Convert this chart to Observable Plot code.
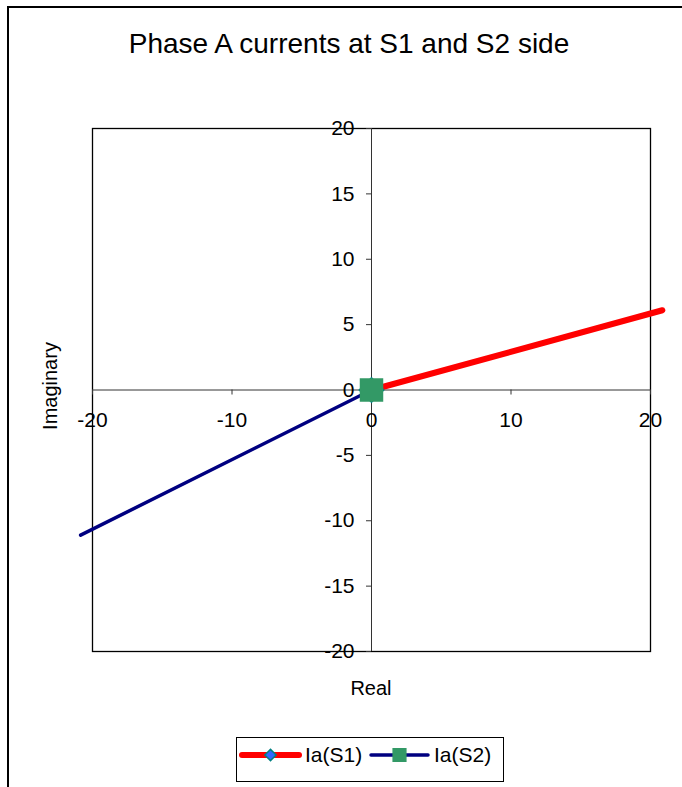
<!DOCTYPE html>
<html>
<head>
<meta charset="utf-8">
<script src="https://cdn.jsdelivr.net/npm/d3@7"></script>
<script src="https://cdn.jsdelivr.net/npm/@observablehq/plot@0.6"></script>
<style>
  html, body { margin: 0; padding: 0; background: #fff; }
  body { width: 682px; height: 787px; overflow: hidden; font-family: "Liberation Sans", Arial, sans-serif; }
  #wrap { position: relative; width: 682px; height: 787px; }
  #border { position: absolute; left: 7px; top: 6px; width: 700px; height: 800px; border: 2px solid #000; box-sizing: border-box; }
  #chart { position: absolute; left: 0; top: 0; }
  .title { position: absolute; left: 0; width: 698px; text-align: center; top: 28px; font-size: 28px; color: #000; white-space: nowrap; }
  .xlabel { position: absolute; left: 271px; width: 200px; text-align: center; top: 677px; font-size: 20px; }
  .ylabel { position: absolute; left: 50px; top: 386px; font-size: 20px; transform: translate(-50%, -50%) rotate(-90deg); white-space: nowrap; }
  #legend { position: absolute; left: 236px; top: 737px; }
</style>
</head>
<body>
<div id="wrap">
  <div id="chart"></div>
  <div id="border"></div>
  <div class="title" id="title"></div>
  <div class="xlabel" id="xlabel"></div>
  <div class="ylabel" id="ylabel"></div>
  <div id="legend"></div>
</div>
<script>
const titleText = "Phase A currents at S1 and S2 side";
const xTitle = "Real";
const yTitle = "Imaginary";
const seriesNames = ["Ia(S1)", "Ia(S2)"];
const s1Real = [0, 20.85];
const s1Imag = [0, 6.1];
const s2Real = [0, -20.85];
const s2Imag = [0, -11.1];
const xTicks = [-20, -10, 0, 10, 20];
const yTicks = [-20, -15, -10, -5, 0, 5, 10, 15, 20];

const s1 = s1Real.map((r, i) => ({re: r, im: s1Imag[i]}));
const s2 = s2Real.map((r, i) => ({re: r, im: s2Imag[i]}));
const inRange = d => Math.abs(d.re) <= 20 && Math.abs(d.im) <= 20;

const font = "Liberation Sans, Arial, sans-serif";
const plot = Plot.plot({
  width: 682,
  height: 787,
  marginLeft: 92,
  marginRight: 32,
  marginTop: 128,
  marginBottom: 136,
  x: {domain: [-20, 20], axis: null},
  y: {domain: [-20, 20], axis: null},
  style: {fontFamily: font, background: "transparent", overflow: "visible"},
  marks: [
    Plot.frame({stroke: "#000", strokeWidth: 1.3}),
    Plot.ruleX([0], {stroke: "#333", strokeWidth: 1}),
    Plot.ruleY([0], {stroke: "#333", strokeWidth: 1}),
    Plot.ruleX(xTicks, {x: d => d, y1: 0, y2: 0, insetBottom: -5, stroke: "#333", strokeWidth: 1}),
    Plot.ruleY(yTicks, {y: d => d, x1: 0, x2: 0, insetLeft: -5, stroke: "#333", strokeWidth: 1}),
    Plot.text(xTicks, {x: d => d, y: 0, dy: 30, text: d => String(d), fontSize: 21, fill: "#000"}),
    Plot.text(yTicks, {x: 0, y: d => d, dx: -17, text: d => String(d), textAnchor: "end", fontSize: 21, fill: "#000"}),
    Plot.line(s1, {x: "re", y: "im", stroke: "#ff0000", strokeWidth: 6}),
    Plot.line(s2, {x: "re", y: "im", stroke: "#000080", strokeWidth: 3.5}),
    Plot.dot(s1.filter(inRange), {x: "re", y: "im", symbol: "diamond2", r: 11, fill: "#3366ff", stroke: "#008080", strokeWidth: 1.5}),
    Plot.dot(s2.filter(inRange), {x: "re", y: "im", symbol: "square", r: 12.4, fill: "#339966", stroke: "#339966"})
  ]
});
document.getElementById("chart").appendChild(plot);
document.getElementById("title").textContent = titleText;
document.getElementById("xlabel").textContent = xTitle;
document.getElementById("ylabel").textContent = yTitle;

// legend
const leg = d3.select("#legend").append("svg")
  .attr("width", 268).attr("height", 46)
  .style("font-family", font);
leg.append("rect").attr("x", 0.5).attr("y", 0.5).attr("width", 267).attr("height", 44)
  .attr("fill", "#fff").attr("stroke", "#000").attr("stroke-width", 1);
const items = [
  {name: seriesNames[0], x0: 6, color: "#ff0000", w: 6, sym: d3.symbolDiamond2, fill: "#3366ff", st: "#008080", size: 80},
  {name: seriesNames[1], x0: 135, color: "#000080", w: 3.5, sym: d3.symbolSquare, fill: "#339966", st: "#339966", size: 160}
];
items.forEach(it => {
  const g = leg.append("g");
  g.append("line").attr("x1", it.x0).attr("x2", it.x0 + 57).attr("y1", 18).attr("y2", 18)
    .attr("stroke", it.color).attr("stroke-width", it.w).attr("stroke-linecap", "round");
  g.append("path").attr("d", d3.symbol(it.sym, it.size)()).attr("transform", `translate(${it.x0 + 28.5},18)`)
    .attr("fill", it.fill).attr("stroke", it.st).attr("stroke-width", 1.5);
  g.append("text").attr("x", it.x0 + 63).attr("y", 18).attr("dy", "0.35em")
    .attr("font-size", 21).attr("fill", "#000").text(it.name);
});
</script>
</body>
</html>
